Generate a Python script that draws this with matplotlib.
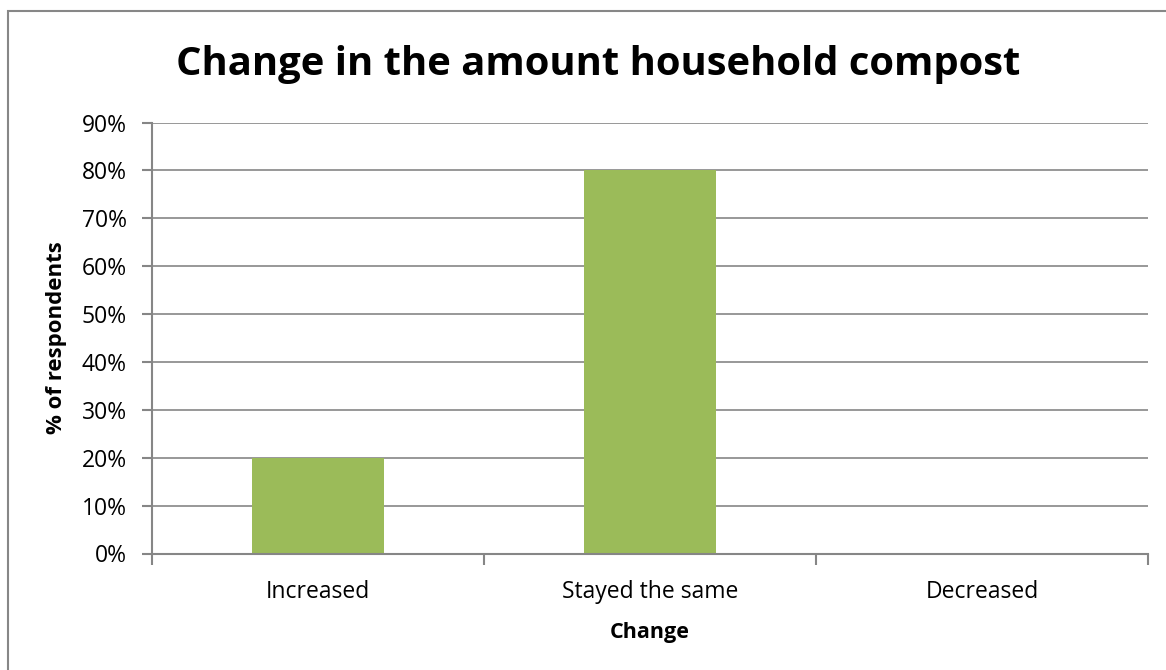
import matplotlib
matplotlib.use("Agg")
import matplotlib.pyplot as plt
from matplotlib.patches import Rectangle
from matplotlib.ticker import MultipleLocator, PercentFormatter, FixedLocator

categories = ["Increased", "Stayed the same", "Decreased"]
percent_respondents = [20, 80, 0]

BAR_COLOR = "#9BBB59"
GRID_COLOR = "#868686"

plt.rcParams["font.family"] = ["Open Sans", "DejaVu Sans"]

W, H = 1166, 670
fig = plt.figure(figsize=(W / 100, H / 100), dpi=100)
ax = fig.add_axes([152 / W, 1 - 553.5 / H, (1148 - 152) / W, (553.5 - 122.5) / H])

# outer chart frame (right and bottom edges fall off the canvas)
fig.patches.append(Rectangle((8 / W, -0.1), 1.2, 1 - 11 / H + 0.1, transform=fig.transFigure,
                             fill=False, edgecolor="#878787", linewidth=1.5))

x = list(range(len(categories)))
ax.bar(x, percent_respondents, width=0.4, color=BAR_COLOR, zorder=3)

ax.set_xlim(-0.5, len(categories) - 0.5)
ax.set_ylim(0, 90)
ax.yaxis.set_major_locator(MultipleLocator(10))
ax.yaxis.set_major_formatter(PercentFormatter(decimals=0))
ax.set_xticks(x)
ax.set_xticklabels(categories)
ax.xaxis.set_minor_locator(FixedLocator([i - 0.5 for i in range(len(categories) + 1)]))
ax.tick_params(axis="x", which="major", length=0, pad=19, labelsize=16.5)
ax.tick_params(axis="x", which="minor", length=8, width=1.5, color=GRID_COLOR)
ax.tick_params(axis="y", length=7, width=1.5, color=GRID_COLOR, labelsize=16.5, pad=11)

ax.yaxis.grid(True, color=GRID_COLOR, linewidth=1.2, zorder=0)
for side in ("top", "right"):
    ax.spines[side].set_visible(False)
for side in ("left", "bottom"):
    ax.spines[side].set_color(GRID_COLOR)
    ax.spines[side].set_linewidth(1.5)
    ax.spines[side].set_zorder(4)

ax.set_ylabel("% of respondents", fontsize=16, fontweight="bold", labelpad=11)
ax.set_xlabel("Change", fontsize=15.5, fontweight="bold", labelpad=13)
fig.text(598 / W, 1 - 65 / H, "Change in the amount household compost",
         ha="center", va="center", fontsize=28.8, fontweight="bold")

fig.savefig("out.png", dpi=100)
